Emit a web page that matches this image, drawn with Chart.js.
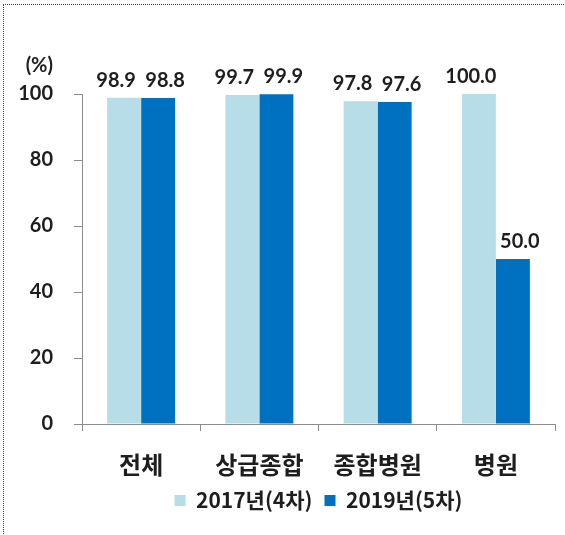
<!DOCTYPE html>
<html>
<head>
<meta charset="utf-8">
<script src="https://cdn.jsdelivr.net/npm/chart.js@4"></script>
<style>
  body { margin: 0; background: #fff; }
  #wrap { position: relative; width: 565px; height: 535px; }
  #frame { position: absolute; left: 3px; top: 4px; right: -5px; bottom: -5px;
           border-top: 1px dotted #444; border-left: 1px dotted #444; pointer-events: none; }
</style>
</head>
<body>
<div id="wrap">
  <canvas id="chart"></canvas>
  <div id="frame"></div>
</div>
<script>
// categories and values
const categories = ['전체', '상급종합', '종합병원', '병원'];
const seriesNames = ['2017년(4차)', '2019년(5차)'];
const values2017 = [98.9, 99.7, 97.8, 100.0];
const values2019 = [98.8, 99.9, 97.6, 50.0];
const yTicks = [0, 20, 40, 60, 80, 100];

const textColor = '#1e1e1e';
const axisColor = '#8c8c8c';
const numFont = 'Lato, "Noto Sans CJK KR", sans-serif';
const korFont = '"Noto Sans CJK KR", sans-serif';

// value labels above bars, nudged apart like the original
const valueLabels = {
   id: 'valueLabels',
   afterDatasetsDraw(chart) {
      const ctx = chart.ctx;
      const shifts = [-8, 7];
      ctx.save();
      ctx.font = 'bold 20px ' + numFont;
      ctx.fillStyle = textColor;
      ctx.textAlign = 'center';
      ctx.textBaseline = 'alphabetic';
      chart.data.datasets.forEach((ds, i) => {
         chart.getDatasetMeta(i).data.forEach((bar, j) => {
            ctx.fillText(ds.data[j].toFixed(1), bar.x + shifts[i], bar.y - 11);
         });
      });
      // unit label
      ctx.textAlign = 'right';
      ctx.textBaseline = 'middle';
      ctx.fillText('(%)', 53, 66);
      ctx.restore();
   }
};

new Chart(document.getElementById('chart'), {
   type: 'bar',
   data: {
      labels: categories,
      datasets: [
         { label: seriesNames[0], data: values2017, backgroundColor: '#b7dde8' },
         { label: seriesNames[1], data: values2019, backgroundColor: '#0070c0' }
      ]
   },
   options: {
      responsive: true,
      maintainAspectRatio: false,
      animation: false,
      layout: { padding: { left: 0, right: 10, top: 94, bottom: 14 } },
      datasets: { bar: { categoryPercentage: 0.575, barPercentage: 1.0 } },
      scales: {
         x: {
            offset: true,
            grid: { offset: true, drawOnChartArea: false, drawTicks: true, tickLength: 7, color: axisColor },
            border: { display: true, color: axisColor, width: 1 },
            ticks: { color: textColor, font: { family: korFont, size: 24, weight: 'bold' }, padding: 19 },
            afterFit(scale) { scale.height = 54; }
         },
         y: {
            min: 0,
            max: 100,
            afterBuildTicks(scale) { scale.ticks = yTicks.map(v => ({ value: v })); },
            grid: { drawOnChartArea: false, drawTicks: true, tickLength: 8, color: axisColor },
            border: { display: true, color: axisColor, width: 1 },
            ticks: { color: textColor, font: { family: numFont, size: 20, weight: 'bold' }, padding: 21 },
            afterFit(scale) { scale.width = 82; }
         }
      },
      plugins: {
         legend: {
            position: 'bottom',
            fullSize: false,
            labels: {
               color: textColor,
               font: { family: korFont, size: 21, weight: 'bold' },
               boxWidth: 11,
               boxHeight: 11,
               padding: 12
            }
         },
         tooltip: { enabled: false }
      }
   },
   plugins: [valueLabels]
});
</script>
</body>
</html>
